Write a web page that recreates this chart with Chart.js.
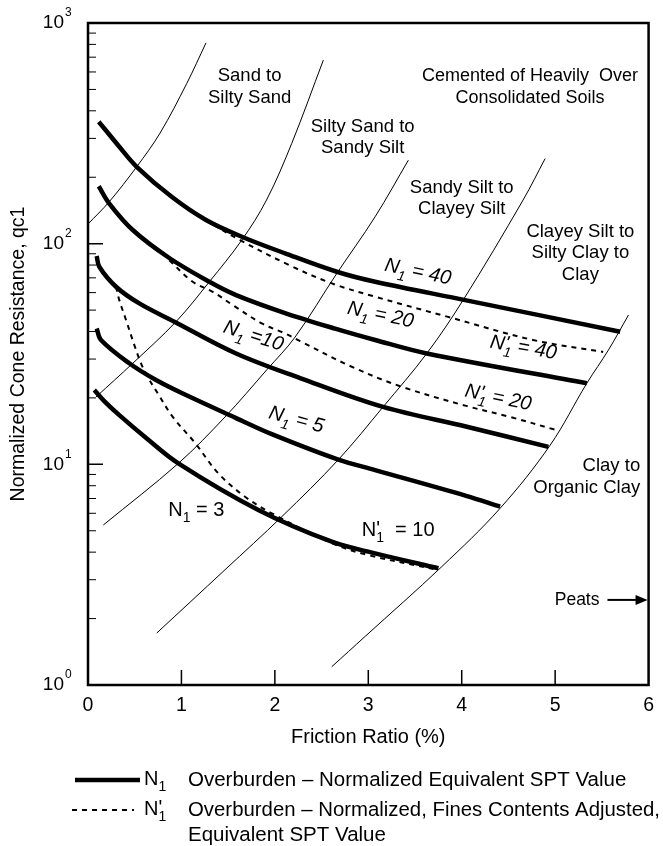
<!DOCTYPE html>
<html>
<head>
<meta charset="utf-8">
<script src="https://cdn.jsdelivr.net/npm/chart.js"></script>
<style>
  html, body { margin: 0; padding: 0; background: #fff; }
  canvas { display: block; }
</style>
</head>
<body>
<canvas id="cptChart" width="663" height="846"></canvas>
<script>
// N1 curves: friction ratio (%) vs normalized cone resistance qc1
const n1_40_x = [0.115, 0.335, 0.521, 0.899, 1.263, 1.646, 2.109, 2.663, 3.073, 4.036, 5.696];
const n1_40_q = [357, 275, 223, 162.6, 128, 107.5, 90.4, 74.6, 67.2, 55.5, 39.9];
const n1_20_x = [0.115, 0.228, 0.479, 0.870, 1.299, 1.585, 2.109, 2.645, 3.073, 3.626, 5.339];
const n1_20_q = [182, 152, 115.3, 86.1, 67.2, 58.5, 48.5, 41.2, 36.6, 31.8, 23.3];
const n1_10_x = [0.093, 0.121, 0.300, 0.549, 0.924, 1.585, 2.270, 3.158, 4.055, 4.928];
const n1_10_q = [87.9, 78.6, 63.8, 53.6, 44.3, 31.8, 24.6, 18.2, 14.8, 12.0];
const n1_5_x = [0.093, 0.139, 0.442, 0.728, 1.049, 1.585, 1.967, 2.680, 3.073, 4.047, 4.411];
const n1_5_q = [41.3, 36.6, 28.7, 24.1, 20.6, 16.2, 13.7, 10.5, 9.42, 7.2, 6.43];
const n1_3_x = [0.067, 0.171, 0.335, 0.610, 0.967, 1.823, 2.609, 3.073, 3.751];
const n1_3_q = [21.7, 19.4, 16.7, 13.3, 10.1, 6.21, 4.46, 3.95, 3.38];

// N'1 curves (fines content adjusted)
const n1a_40_x = [1.253, 1.627, 2.152, 2.609, 3.073, 3.844, 4.764, 5.514];
const n1a_40_q = [128, 103.8, 80, 66.1, 57.5, 46.7, 36.6, 32.3];
const n1a_20_x = [0.870, 1.121, 1.335, 1.549, 1.860, 2.109, 2.270, 2.805, 3.340, 4.047, 4.518, 5.011];
const n1a_20_q = [84, 67.2, 60.5, 52.7, 43.5, 39.2, 36.2, 27.9, 22.6, 18.4, 16.4, 14.3];
const n1a_10_x = [0.300, 0.335, 0.407, 0.496, 0.567, 0.639, 0.746, 0.907, 1.146, 1.395, 1.681, 1.967, 2.609, 2.998, 3.751];
const n1a_10_q = [63.8, 55.5, 45.1, 34.7, 28.7, 24.9, 21.0, 16.4, 12.5, 9.10, 7.13, 6.00, 4.39, 3.88, 3.32];

// soil zone boundaries
const zone1_x = [0.0, 0.228, 0.521, 0.771, 1.057, 1.263];
const zone1_q = [122.7, 155, 223, 317, 532, 813];
const zone2_x = [0.086, 0.479, 0.942, 1.299, 1.646, 1.911, 2.181, 2.519];
const zone2_q = [20.2, 28.7, 44.3, 67.2, 103.8, 157.7, 285, 679];
const zone3_x = [0.164, 0.967, 1.467, 1.913, 2.216, 2.663, 3.073, 3.429];
const zone3_q = [5.31, 10.1, 16.4, 26.8, 37.7, 73.3, 132.4, 239];
const zone4_x = [0.736, 1.467, 2.074, 2.680, 3.158, 3.626, 4.015, 4.657, 4.893];
const zone4_q = [1.72, 3.33, 5.79, 10.5, 18.2, 31.8, 55.5, 157.7, 243];
const zone5_x = [2.609, 2.966, 3.787, 4.411, 4.946, 5.339, 5.571, 5.785];
const zone5_q = [1.21, 1.66, 3.44, 6.32, 12.2, 23.3, 33.0, 47.5];

// axis ticks
const xTicks = [0, 1, 2, 3, 4, 5, 6];
const yDecades = [1, 10, 100, 1000];
const yExponents = ['0', '1', '2', '3'];
const yMinor = [2, 3, 4, 5, 6, 7, 8, 9, 20, 30, 40, 50, 60, 70, 80, 90, 200, 300, 400, 500, 600, 700, 800, 900];

// text placed in data coordinates
const zoneLabels = [
    { lines: ['Sand to', 'Silty Sand'], x: 1.73, q: 513 },
    { lines: ['Silty Sand to', 'Sandy Silt'], x: 2.94, q: 303 },
    { lines: ['Sandy Silt to', 'Clayey Silt'], x: 4.00, q: 160 },
    { lines: ['Clayey Silt to', 'Silty Clay to', 'Clay'], x: 5.27, q: 90.7 },
    { lines: ['Cemented of Heavily  Over', 'Consolidated Soils'], x: 4.73, q: 513, size: 18 },
    { lines: ['Clay to', 'Organic Clay'], x: 5.91, q: 8.76, align: 'right' }
];
const curveLabels = [
    { val: '40', prime: false, x: 3.53, q: 74.3, rot: 12, italic: true },
    { val: '20', prime: false, x: 3.13, q: 47.5, rot: 12, italic: true },
    { val: '40', prime: true, x: 4.66, q: 33.7, rot: 10, italic: true },
    { val: '20', prime: true, x: 4.39, q: 20.0, rot: 12, italic: true },
    { val: '10', prime: false, x: 1.77, q: 38.1, rot: 18, italic: true, eq: ' =' },
    { val: '5', prime: false, x: 2.23, q: 15.9, rot: 15, italic: true },
    { val: '3', prime: false, x: 1.16, q: 6.21, rot: 0, italic: false },
    { val: '10', prime: true, x: 3.32, q: 5.04, rot: 0, italic: false, eq: '  = ' }
];

const FONT = '"Liberation Sans", Arial, Helvetica, sans-serif';

function pts(xs, qs) {
    return xs.map((x, i) => ({ x: x, y: qs[i] }));
}

function line(xs, qs, kind) {
    const ds = {
        data: pts(xs, qs),
        showLine: true,
        pointRadius: 0,
        borderColor: '#000',
        backgroundColor: '#000',
        tension: 0.35,
        fill: false
    };
    if (kind == 'thick') {
        ds.borderWidth = 4.5;
    } else if (kind == 'dash') {
        ds.borderWidth = 2;
        ds.borderDash = [5, 5];
    } else {
        ds.borderWidth = 1;
    }
    return ds;
}

function drawN(ctx, cx, cy, prime, val, italic, angle, eq, size) {
    const st = italic ? 'italic ' : '';
    const f = st + size + 'px ' + FONT;
    const fs = st + Math.round(size * 0.72) + 'px ' + FONT;
    const rest = val == null ? '' : (eq || ' = ') + val;
    ctx.save();
    ctx.translate(cx, cy);
    ctx.rotate(angle * Math.PI / 180);
    ctx.textBaseline = 'middle';
    ctx.textAlign = 'left';
    ctx.font = f;
    const wN = ctx.measureText('N').width;
    const wP = prime ? ctx.measureText('\'').width : 0;
    const wR = ctx.measureText(rest).width;
    ctx.font = fs;
    const wS = ctx.measureText('1').width;
    const mid = Math.max(wP, wS);
    let x = val == null ? 0 : -(wN + mid + wR) / 2;
    ctx.font = f;
    ctx.fillText('N', x, 0);
    if (prime) ctx.fillText('\'', x + wN, -1);
    ctx.font = fs;
    ctx.fillText('1', x + wN, size * 0.4);
    ctx.font = f;
    ctx.fillText(rest, x + wN + mid, 0);
    ctx.restore();
}

const soilPlugin = {
    id: 'soilPlugin',
    beforeDraw(chart) {
        const ctx = chart.ctx;
        ctx.save();
        ctx.fillStyle = '#fff';
        ctx.fillRect(0, 0, chart.width, chart.height);
        ctx.restore();
    },
    afterDraw(chart) {
        const ctx = chart.ctx;
        const area = chart.chartArea;
        const xs = chart.scales.x;
        const ys = chart.scales.y;
        ctx.save();
        ctx.strokeStyle = '#000';
        ctx.fillStyle = '#000';

        // frame
        ctx.lineWidth = 2.5;
        ctx.strokeRect(area.left, area.top, area.right - area.left, area.bottom - area.top);

        // inward ticks
        ctx.lineWidth = 1.5;
        ctx.beginPath();
        yDecades.forEach(v => {
            const y = ys.getPixelForValue(v);
            ctx.moveTo(area.left, y);
            ctx.lineTo(area.left + 15, y);
        });
        xTicks.slice(1, -1).forEach(v => {
            const x = xs.getPixelForValue(v);
            ctx.moveTo(x, area.bottom);
            ctx.lineTo(x, area.bottom - 15);
        });
        ctx.stroke();
        ctx.lineWidth = 1;
        ctx.beginPath();
        yMinor.forEach(v => {
            const y = ys.getPixelForValue(v);
            ctx.moveTo(area.left, y);
            ctx.lineTo(area.left + 8, y);
        });
        ctx.stroke();

        // y tick labels 10^n
        yDecades.forEach((v, i) => {
            const y = ys.getPixelForValue(v);
            ctx.font = '19px ' + FONT;
            ctx.textAlign = 'right';
            ctx.textBaseline = 'middle';
            ctx.fillText('10', area.left - 24, y);
            ctx.font = '12px ' + FONT;
            ctx.textAlign = 'left';
            ctx.fillText(yExponents[i], area.left - 23, y - 10);
        });

        // zone labels
        ctx.textBaseline = 'middle';
        zoneLabels.forEach(lb => {
            const cx = xs.getPixelForValue(lb.x);
            const cy = ys.getPixelForValue(lb.q);
            const lh = 21.5;
            ctx.font = (lb.size || 18.5) + 'px ' + FONT;
            ctx.textAlign = lb.align || 'center';
            lb.lines.forEach((t, i) => {
                ctx.fillText(t, cx, cy + (i - (lb.lines.length - 1) / 2) * lh);
            });
        });

        // Peats with arrow
        const py = ys.getPixelForValue(2.43);
        ctx.font = '17.5px ' + FONT;
        ctx.textAlign = 'center';
        ctx.fillText('Peats', xs.getPixelForValue(5.235), py);
        ctx.lineWidth = 2;
        ctx.beginPath();
        ctx.moveTo(xs.getPixelForValue(5.56), py);
        ctx.lineTo(area.right - 10, py);
        ctx.stroke();
        ctx.beginPath();
        ctx.moveTo(area.right - 1, py);
        ctx.lineTo(area.right - 13, py - 5);
        ctx.lineTo(area.right - 13, py + 5);
        ctx.closePath();
        ctx.fill();

        // N1 labels on curves
        curveLabels.forEach(lb => {
            drawN(ctx, xs.getPixelForValue(lb.x), ys.getPixelForValue(lb.q), lb.prime, lb.val,
                lb.italic, lb.rot, lb.eq, 20);
        });

        // legend under the axis
        ctx.lineWidth = 4.5;
        ctx.setLineDash([]);
        ctx.beginPath();
        ctx.moveTo(75, 780);
        ctx.lineTo(140, 780);
        ctx.stroke();
        ctx.lineWidth = 2;
        ctx.setLineDash([5, 5]);
        ctx.beginPath();
        ctx.moveTo(72, 810);
        ctx.lineTo(134, 810);
        ctx.stroke();
        ctx.setLineDash([]);
        drawN(ctx, 144, 779, false, null, false, 0, null, 20);
        drawN(ctx, 144, 809, true, null, false, 0, null, 20);
        ctx.font = '20.5px ' + FONT;
        ctx.textAlign = 'left';
        ctx.textBaseline = 'middle';
        ctx.fillText('Overburden \u2013 Normalized Equivalent SPT Value', 188, 780);
        ctx.fillText('Overburden \u2013 Normalized, Fines Contents Adjusted,', 188, 810, 472);
        ctx.fillText('Equivalent SPT Value', 188, 835);
        ctx.restore();
    }
};

const datasets = [
    line(zone1_x, zone1_q, 'thin'),
    line(zone2_x, zone2_q, 'thin'),
    line(zone3_x, zone3_q, 'thin'),
    line(zone4_x, zone4_q, 'thin'),
    line(zone5_x, zone5_q, 'thin'),
    line(n1_40_x, n1_40_q, 'thick'),
    line(n1_20_x, n1_20_q, 'thick'),
    line(n1_10_x, n1_10_q, 'thick'),
    line(n1_5_x, n1_5_q, 'thick'),
    line(n1_3_x, n1_3_q, 'thick'),
    line(n1a_40_x, n1a_40_q, 'dash'),
    line(n1a_20_x, n1a_20_q, 'dash'),
    line(n1a_10_x, n1a_10_q, 'dash')
];

const cptChart = new Chart(document.getElementById('cptChart'), {
    type: 'scatter',
    data: { datasets: datasets },
    options: {
        responsive: false,
        animation: false,
        devicePixelRatio: 1,
        layout: { padding: { top: 23, right: 14, bottom: 96, left: 0 } },
        plugins: {
            legend: { display: false },
            tooltip: { enabled: false }
        },
        scales: {
            x: {
                type: 'linear',
                min: 0,
                max: 6,
                afterBuildTicks: s => { s.ticks = xTicks.map(v => ({ value: v })); },
                grid: { display: false, drawTicks: false },
                border: { display: false },
                ticks: { padding: 9, color: '#000', font: { family: FONT, size: 19.5 } },
                title: {
                    display: true,
                    text: 'Friction Ratio (%)',
                    color: '#000',
                    font: { family: FONT, size: 20 },
                    padding: { top: 0, bottom: 1 }
                },
                afterFit: s => { s.height = 65; }
            },
            y: {
                type: 'logarithmic',
                min: 1,
                max: 1000,
                grid: { display: false, drawTicks: false },
                border: { display: false },
                ticks: { display: false },
                title: {
                    display: true,
                    text: 'Normalized Cone Resistance, qc1',
                    color: '#000',
                    font: { family: FONT, size: 19.5 },
                    padding: { top: 7, bottom: 0 }
                },
                afterFit: s => { s.width = 88; }
            }
        }
    },
    plugins: [soilPlugin]
});
</script>
</body>
</html>
